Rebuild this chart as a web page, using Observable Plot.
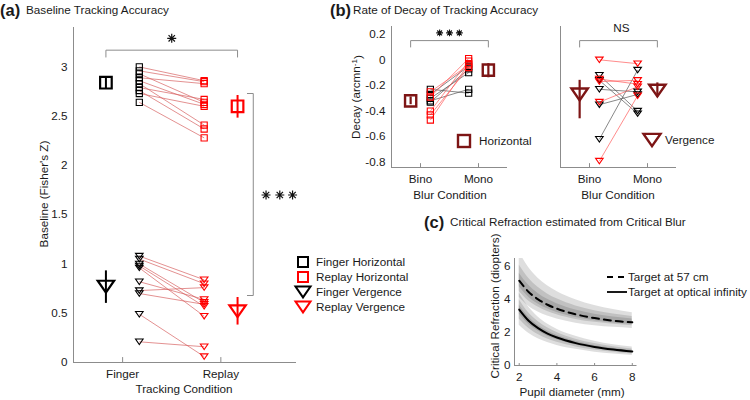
<!DOCTYPE html>
<html><head><meta charset="utf-8">
<script src="https://cdn.jsdelivr.net/npm/d3@7"></script>
<script src="https://cdn.jsdelivr.net/npm/@observablehq/plot@0.6"></script>
<style>
body{margin:0;background:#fff;}
#wrap{position:relative;width:750px;height:400px;overflow:hidden;background:#fff;}
</style></head><body><div id="wrap"></div>
<script>
// ---------------- data ----------------
// (a) Baseline tracking accuracy (Fisher's Z)
const conditionsA = ["Finger", "Replay"];
const yTicksA = [0, 0.5, 1, 1.5, 2, 2.5, 3];
const fingerHoriz = [3.00, 2.96, 2.93, 2.89, 2.86, 2.83, 2.79, 2.76, 2.73, 2.64];
const replayHoriz = [2.86, 2.85, 2.64, 2.83, 2.62, 2.41, 2.67, 2.37, 2.60, 2.28];
const fingerVerg = [1.08, 1.05, 1.00, 0.98, 0.96, 0.82, 0.73, 0.70, 0.49, 0.21];
const replayVerg = [0.84, 0.80, 0.61, 0.57, 0.47, 0.64, 0.76, 0.59, 0.06, 0.16];
const meanHorizA = [2.84, 2.60];
const loHorizA = [2.78, 2.48];
const hiHorizA = [2.90, 2.71];
const meanVergA = [0.77, 0.52];
const loVergA = [0.60, 0.38];
const hiVergA = [0.93, 0.66];

// (b) Rate of decay (arcmin^-1)
const blurConditions = ["Bino", "Mono"];
const yTicksB = [-0.8, -0.6, -0.4, -0.2, 0, 0.2];
const horizFingerBino = [-0.23, -0.27, -0.30, -0.32, -0.33];
const horizFingerMono = [-0.26, -0.05, -0.10, -0.23, -0.07];
const horizReplayBino = [-0.25, -0.29, -0.40, -0.43, -0.47];
const horizReplayMono = [-0.04, 0.01, -0.01, -0.06, -0.03];
const vergFingerBino = [-0.12, -0.16, -0.23, -0.35, -0.62];
const vergFingerMono = [-0.40, -0.42, -0.25, -0.27, -0.08];
const vergReplayBino = [0.00, -0.15, -0.17, -0.33, -0.79];
const vergReplayMono = [-0.03, -0.19, -0.16, -0.21, -0.28];
const meanHorizB = [-0.32, -0.08];
const loHorizB = [-0.35, -0.14];
const hiHorizB = [-0.29, -0.03];
const meanVergB = [-0.27, -0.24];
const loVergB = [-0.46, -0.29];
const hiVergB = [-0.16, -0.18];

// (c) Critical refraction vs pupil diameter
const pupil = [2, 2.5, 3, 3.5, 4, 5, 6, 7, 8];
const infinityRefr = [3.40, 2.72, 2.27, 1.94, 1.70, 1.36, 1.13, 0.97, 0.85];
const infOuterHi = [4.40, 3.55, 2.95, 2.52, 2.20, 1.77, 1.47, 1.26, 1.12];
const infOuterLo = [2.45, 1.96, 1.63, 1.40, 1.22, 0.98, 0.81, 0.70, 0.60];
const infMidHi = [4.00, 3.20, 2.68, 2.29, 2.00, 1.60, 1.33, 1.14, 1.00];
const infMidLo = [2.82, 2.26, 1.88, 1.61, 1.41, 1.13, 0.94, 0.80, 0.70];
const infInHi = [3.67, 2.94, 2.45, 2.10, 1.84, 1.47, 1.22, 1.05, 0.92];
const infInLo = [3.13, 2.50, 2.09, 1.78, 1.56, 1.25, 1.04, 0.89, 0.78];
const nearRefr = [5.15, 4.47, 4.02, 3.69, 3.45, 3.11, 2.88, 2.72, 2.62];
const nearOuterHi = [6.90, 5.95, 5.30, 4.85, 4.50, 4.00, 3.65, 3.40, 3.20];
const nearOuterLo = [4.15, 3.60, 3.25, 3.00, 2.82, 2.57, 2.42, 2.32, 2.25];
const nearMidHi = [6.10, 5.30, 4.75, 4.35, 4.05, 3.62, 3.33, 3.13, 2.98];
const nearMidLo = [4.50, 3.92, 3.55, 3.28, 3.08, 2.80, 2.62, 2.50, 2.42];
const nearInHi = [5.60, 4.87, 4.38, 4.02, 3.75, 3.37, 3.12, 2.94, 2.82];
const nearInLo = [4.78, 4.15, 3.74, 3.44, 3.22, 2.92, 2.72, 2.58, 2.50];
const xTicksC = [2, 4, 6, 8];
const yTicksC = [0, 2, 4, 6];

// ---------------- helpers ----------------
const FONT = '"Liberation Sans", Arial, Helvetica, sans-serif';
const FS = "11.7px";
const AX = "#8c8c8c";
const DARKRED = "#7d1515";
const RED = "#ff0000";
const W = document.getElementById("wrap");
const baseStyle = {fontFamily: FONT, fontSize: FS, background: "transparent", overflow: "visible", color: "#1a1a1a"};
function place(svg, left, top) {
  svg.style.position = "absolute"; svg.style.left = left + "px"; svg.style.top = top + "px";
  svg.style.maxWidth = "none";
  W.appendChild(svg);
}
const SQ = {draw(ctx, size) { const r = Math.sqrt(size / Math.PI); ctx.moveTo(-r, -r); ctx.lineTo(r, -r); ctx.lineTo(r, r); ctx.lineTo(-r, r); ctx.closePath(); }};
const TRI = {draw(ctx, size) { const r = Math.sqrt(size / Math.PI), h = 0.72 * r; ctx.moveTo(-r, -h); ctx.lineTo(r, -h); ctx.lineTo(0, h); ctx.closePath(); }};
const STAR = {draw(ctx, size) { const r = Math.sqrt(size / Math.PI), d = r * 0.7071;
  ctx.moveTo(-r, 0); ctx.lineTo(r, 0); ctx.moveTo(0, -r); ctx.lineTo(0, r);
  ctx.moveTo(-d, -d); ctx.lineTo(d, d); ctx.moveTo(-d, d); ctx.lineTo(d, -d); }};
const off = 0.17;

// ---------------- panel (a) ----------------
const hPairs = fingerHoriz.map((v, i) => ({a: v, b: replayHoriz[i]}));
const vPairs = fingerVerg.map((v, i) => ({a: v, b: replayVerg[i]}));
const meansA = [0, 1].map(i => ({x: i === 0 ? 1 - off : 2 + off, mh: meanHorizA[i], lh: loHorizA[i], hh: hiHorizA[i], mv: meanVergA[i], lv: loVergA[i], hv: hiVergA[i]}));
const pairLine = {stroke: "#d65c5c", strokeWidth: 0.75, strokeOpacity: 0.9};

const plotA = Plot.plot({
  width: 300, height: 400, marginLeft: 73, marginRight: 4, marginTop: 27, marginBottom: 38,
  x: {domain: [0.5, 2.77]}, y: {domain: [0, 3.4]},
  style: baseStyle,
  marks: [
    Plot.ruleX([0.5], {y1: 0, y2: 3.4, stroke: AX}),
    Plot.ruleY([0], {x1: 0.5, x2: 2.77, stroke: AX}),
    Plot.ruleX([1, 2], {y1: 0, y2: 0.05, stroke: AX}),
    Plot.axisY({ticks: yTicksA, tickSize: 0, tickPadding: 6, tickFormat: String, label: null}),
    Plot.axisX({ticks: [1, 2], tickSize: 0, tickPadding: 7, tickFormat: d => conditionsA[d - 1], label: null}),
    Plot.link(hPairs, {x1: () => 1 + off, y1: "a", x2: () => 2 - off, y2: "b", ...pairLine}),
    Plot.link(vPairs, {x1: () => 1 + off, y1: "a", x2: () => 2 - off, y2: "b", ...pairLine}),
    Plot.dot(hPairs, {x: () => 1 + off, y: "a", symbol: SQ, r: 3.1, stroke: "black", strokeWidth: 1.1, fill: "none"}),
    Plot.dot(hPairs, {x: () => 2 - off, y: "b", symbol: SQ, r: 3.1, stroke: RED, strokeWidth: 1.1, fill: "none"}),
    Plot.dot(vPairs, {x: () => 1 + off, y: "a", symbol: TRI, r: 3.8, stroke: "black", strokeWidth: 1.1, fill: "none"}),
    Plot.dot(vPairs, {x: () => 2 - off, y: "b", symbol: TRI, r: 3.8, stroke: RED, strokeWidth: 1.1, fill: "none"}),
    Plot.ruleX(meansA.slice(0, 1), {x: "x", y1: "lh", y2: "hh", stroke: "black", strokeWidth: 2}),
    Plot.ruleX(meansA.slice(1), {x: "x", y1: "lh", y2: "hh", stroke: RED, strokeWidth: 2}),
    Plot.ruleX(meansA.slice(0, 1), {x: "x", y1: "lv", y2: "hv", stroke: "black", strokeWidth: 2}),
    Plot.ruleX(meansA.slice(1), {x: "x", y1: "lv", y2: "hv", stroke: RED, strokeWidth: 2}),
    Plot.dot(meansA.slice(0, 1), {x: "x", y: "mh", symbol: SQ, r: 5.8, stroke: "black", strokeWidth: 2.2, fill: "none"}),
    Plot.dot(meansA.slice(1), {x: "x", y: "mh", symbol: SQ, r: 5.8, stroke: RED, strokeWidth: 2.2, fill: "none"}),
    Plot.dot(meansA.slice(0, 1), {x: "x", y: "mv", symbol: TRI, r: 8.2, stroke: "black", strokeWidth: 2.2, fill: "none"}),
    Plot.dot(meansA.slice(1), {x: "x", y: "mv", symbol: TRI, r: 8.2, stroke: RED, strokeWidth: 2.2, fill: "none"}),
    Plot.line([[1 - off, 3.10], [1 - off, 3.17], [2 + off, 3.17], [2 + off, 3.10]], {stroke: AX, strokeWidth: 1}),
    Plot.line([[2.27, 2.73], [2.33, 2.73], [2.33, 0.68], [2.27, 0.68]], {stroke: AX, strokeWidth: 1}),
    Plot.dot([[1.5, 3.29]], {symbol: STAR, r: 4.5, stroke: "#111", strokeWidth: 1.2}),
    Plot.dot([[2.46, 1.70], [2.60, 1.70], [2.73, 1.70]], {symbol: STAR, r: 4.5, stroke: "#111", strokeWidth: 1.2})
  ]
});
place(plotA, 0, 0);

// ---------------- panel (b) ----------------
function subB(fb, fm, rb, rm, mean, lo, hi, sym, rInd, rMean, withY, sigText) {
  const fp = fb.map((v, i) => ({a: v, b: fm[i]}));
  const rp = rb.map((v, i) => ({a: v, b: rm[i]}));
  const means = [{x: 1 - off, m: mean[0], lo: lo[0], hi: hi[0]}, {x: 2 + off, m: mean[1], lo: lo[1], hi: hi[1]}];
  const marks = [
    Plot.ruleX([0.5], {y1: -0.84, y2: 0.26, stroke: AX}),
    Plot.ruleY([-0.84], {x1: 0.5, x2: 2.5, stroke: AX}),
    Plot.ruleX([1, 2], {y1: -0.84, y2: -0.81, stroke: AX}),
    Plot.axisX({ticks: [1, 2], tickSize: 0, tickPadding: 7, tickFormat: d => blurConditions[d - 1], label: null}),
    Plot.link(fp, {x1: () => 1 + off, y1: "a", x2: () => 2 - off, y2: "b", stroke: "#555", strokeWidth: 0.7}),
    Plot.link(rp, {x1: () => 1 + off, y1: "a", x2: () => 2 - off, y2: "b", stroke: "#ff5a5a", strokeWidth: 0.7}),
    Plot.dot(fp, {x: () => 1 + off, y: "a", symbol: sym, r: rInd, stroke: "black", strokeWidth: 1.1, fill: "none"}),
    Plot.dot(fp, {x: () => 2 - off, y: "b", symbol: sym, r: rInd, stroke: "black", strokeWidth: 1.1, fill: "none"}),
    Plot.dot(rp, {x: () => 1 + off, y: "a", symbol: sym, r: rInd, stroke: RED, strokeWidth: 1.1, fill: "none"}),
    Plot.dot(rp, {x: () => 2 - off, y: "b", symbol: sym, r: rInd, stroke: RED, strokeWidth: 1.1, fill: "none"}),
    Plot.ruleX(means, {x: "x", y1: "lo", y2: "hi", stroke: DARKRED, strokeWidth: 2.2}),
    Plot.dot(means, {x: "x", y: "m", symbol: sym, r: rMean, stroke: DARKRED, strokeWidth: 2.4, fill: "none"}),
    Plot.line([[1 - off, 0.10], [1 - off, 0.15], [2 + off, 0.15], [2 + off, 0.10]], {stroke: AX, strokeWidth: 1})
  ];
  if (withY) marks.push(Plot.axisY({ticks: yTicksB, tickSize: 0, tickPadding: 6, tickFormat: String, label: null}));
  else marks.push(Plot.axisY({ticks: [], label: null}));
  if (sigText) marks.push(Plot.text([sigText], {x: () => 1.55, y: () => 0.245, fill: "#1a1a1a"}));
  else marks.push(Plot.dot([[1.33, 0.21], [1.5, 0.21], [1.67, 0.21]], {symbol: STAR, r: 3.4, stroke: "#111", strokeWidth: 1.1}));
  return marks;
}
const plotB1 = Plot.plot({
  width: 180, height: 210, marginLeft: 51, marginRight: 13, marginTop: 26, marginBottom: 43,
  x: {domain: [0.5, 2.5]}, y: {domain: [-0.84, 0.26]}, style: baseStyle,
  marks: subB(horizFingerBino, horizFingerMono, horizReplayBino, horizReplayMono, meanHorizB, loHorizB, hiHorizB, SQ, 3.1, 5.6, true, null)
});
place(plotB1, 340, 0);
const plotB2 = Plot.plot({
  width: 160, height: 210, marginLeft: 20, marginRight: 24, marginTop: 26, marginBottom: 43,
  x: {domain: [0.5, 2.5]}, y: {domain: [-0.84, 0.26]}, style: baseStyle,
  marks: subB(vergFingerBino, vergFingerMono, vergReplayBino, vergReplayMono, meanVergB, loVergB, hiVergB, TRI, 3.8, 8.2, false, "NS")
});
place(plotB2, 540, 0);

// ---------------- panel (c) ----------------
const rowsC = pupil.map((p, i) => ({p,
  inf: infinityRefr[i], ioh: infOuterHi[i], iol: infOuterLo[i], imh: infMidHi[i], iml: infMidLo[i], iih: infInHi[i], iil: infInLo[i],
  near: nearRefr[i], noh: nearOuterHi[i], nol: nearOuterLo[i], nmh: nearMidHi[i], nml: nearMidLo[i], nih: nearInHi[i], nil: nearInLo[i]}));
const band = (lo, hi, op) => Plot.areaY(rowsC, {x: "p", y1: lo, y2: hi, fill: "#000", fillOpacity: op, curve: "monotone-x", clip: true});
const plotC = Plot.plot({
  width: 310, height: 200, marginLeft: 74, marginRight: 113.5, marginTop: 58, marginBottom: 35,
  x: {domain: [1.75, 8.25]}, y: {domain: [0, 6.5]}, style: baseStyle,
  marks: [
    band("iol", "ioh", 0.13), band("iml", "imh", 0.13), band("iil", "iih", 0.13),
    band("nol", "noh", 0.13), band("nml", "nmh", 0.13), band("nil", "nih", 0.13),
    Plot.ruleX([1.75], {y1: 0, y2: 6.5, stroke: AX}),
    Plot.ruleY([0], {x1: 1.75, x2: 8.25, stroke: AX}),
    Plot.ruleX(xTicksC, {y1: 0, y2: 0.12, stroke: AX}),
    Plot.axisY({ticks: yTicksC, tickSize: 0, tickPadding: 4, tickFormat: String, label: null}),
    Plot.axisX({ticks: xTicksC, tickSize: 0, tickPadding: 7, tickFormat: String, label: null}),
    Plot.line(rowsC, {x: "p", y: "near", stroke: "black", strokeWidth: 2, strokeDasharray: "7,5", curve: "monotone-x"}),
    Plot.line(rowsC, {x: "p", y: "inf", stroke: "black", strokeWidth: 2, curve: "monotone-x"})
  ]
});
place(plotC, 440, 200);

// ---------------- overlay: titles, axis labels & legends ----------------
const ov = d3.select(W).append("svg").attr("width", 750).attr("height", 400)
  .style("position", "absolute").style("left", "0px").style("top", "0px")
  .attr("font-family", FONT).attr("font-size", 11.7).attr("fill", "#1a1a1a");
function title(x, y, lab, tx, txt) {
  ov.append("text").attr("x", x).attr("y", y).attr("dy", "0.35em").attr("font-weight", "bold").attr("font-size", 16.5).text(lab);
  ov.append("text").attr("x", tx).attr("y", y).attr("dy", "0.35em").text(txt);
}
title(0, 10, "(a)", 26, "Baseline Tracking Accuracy");
title(330, 10, "(b)", 353, "Rate of Decay of Tracking Accuracy");
title(424, 222, "(c)", 450, "Critical Refraction estimated from Critical Blur");

function label(x, y, t, rot) {
  return ov.append("text").attr("transform", `translate(${x},${y})` + (rot ? " rotate(-90)" : ""))
    .attr("text-anchor", "middle").attr("dy", "0.35em").text(t);
}
label(44, 194, "Baseline (Fisher's Z)", true);
label(184, 389, "Tracking Condition", false);
label(450, 195, "Blur Condition", false);
label(618, 195, "Blur Condition", false);
label(495, 306, "Critical Refraction (diopters)", true);
label(572, 392, "Pupil diameter (mm)", false);
const yl = ov.append("text").attr("transform", "translate(356,97) rotate(-90)").attr("text-anchor", "middle").attr("dy", "0.35em");
yl.append("tspan").text("Decay (arcmn");
yl.append("tspan").attr("dy", "-0.45em").attr("font-size", 8).text("-1");
yl.append("tspan").attr("dy", "0.45em").text(")");

function sqShape(cx, cy, s, color, sw) {
  ov.append("rect").attr("x", cx - s / 2).attr("y", cy - s / 2).attr("width", s).attr("height", s).attr("fill", "none").attr("stroke", color).attr("stroke-width", sw);
}
function triShape(cx, cy, w, color, sw) {
  const r = w / 2, h = 0.72 * r;
  ov.append("path").attr("d", `M${cx - r},${cy - h}L${cx + r},${cy - h}L${cx},${cy + h}Z`).attr("fill", "none").attr("stroke", color).attr("stroke-width", sw);
}
function legText(x, y, t) { ov.append("text").attr("x", x).attr("y", y).attr("dy", "0.35em").text(t); }
sqShape(303, 262, 10, "black", 2); legText(316, 262, "Finger Horizontal");
sqShape(303, 277, 10, RED, 2); legText(316, 277, "Replay Horizontal");
triShape(303, 292, 15, "black", 2); legText(316, 292, "Finger Vergence");
triShape(303, 307, 15, RED, 2); legText(316, 307, "Replay Vergence");
sqShape(464, 141, 12, DARKRED, 2.4); legText(479, 141, "Horizontal");
triShape(652, 140, 17, DARKRED, 2.4); legText(665, 140, "Vergence");
ov.append("line").attr("x1", 607).attr("x2", 627).attr("y1", 277).attr("y2", 277).attr("stroke", "black").attr("stroke-width", 1.8).attr("stroke-dasharray", "6,5");
legText(628, 277, "Target at 57 cm");
ov.append("line").attr("x1", 607).attr("x2", 627).attr("y1", 292).attr("y2", 292).attr("stroke", "black").attr("stroke-width", 1.8);
legText(628, 292, "Target at optical infinity");
</script></body></html>
